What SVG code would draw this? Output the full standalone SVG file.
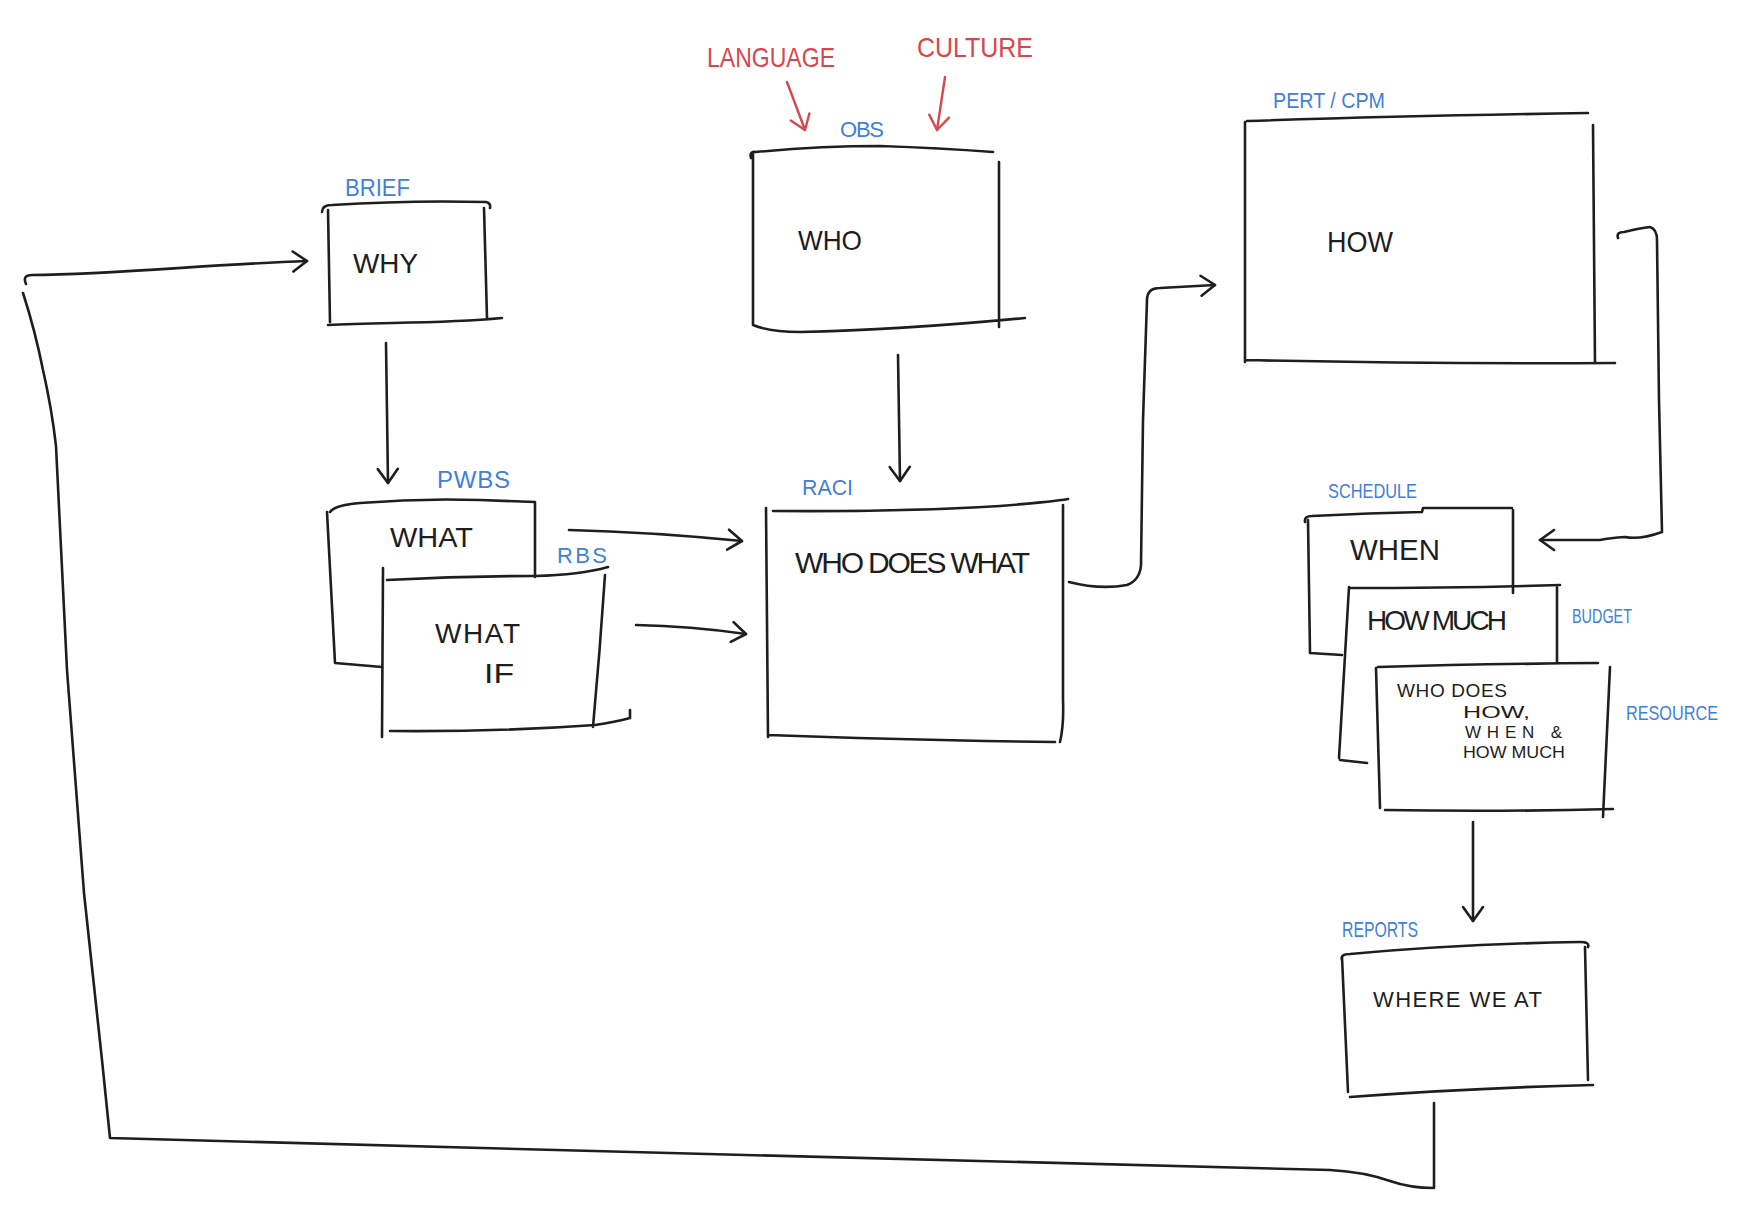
<svg xmlns="http://www.w3.org/2000/svg" width="1750" height="1222" viewBox="0 0 1750 1222">
<style>
.ln{fill:none;stroke:#1e1e1e;stroke-width:2.6;stroke-linecap:round;stroke-linejoin:round}
.rl{fill:none;stroke:#d8474e;stroke-width:2.4;stroke-linecap:round;stroke-linejoin:round}
.t{font-family:"Liberation Sans",Arial,sans-serif;fill:#1e1e1e}
.b{font-family:"Liberation Sans",Arial,sans-serif;fill:#3f80de}
.r{font-family:"Liberation Sans",Arial,sans-serif;fill:#d8474e}
</style>
<defs>
<marker id="a" viewBox="0 0 20 24" refX="17" refY="12" markerWidth="20" markerHeight="24" markerUnits="userSpaceOnUse" orient="auto">
<path d="M3,2 L17,12 L3,22" fill="none" stroke="#1e1e1e" stroke-width="2.6" stroke-linecap="round" stroke-linejoin="round"/>
</marker>
<marker id="ar" viewBox="0 0 20 24" refX="17" refY="12" markerWidth="20" markerHeight="24" markerUnits="userSpaceOnUse" orient="auto">
<path d="M3,2 L17,12 L3,22" fill="none" stroke="#d8474e" stroke-width="2.4" stroke-linecap="round" stroke-linejoin="round"/>
</marker>
</defs>
<rect width="1750" height="1222" fill="#ffffff"/>

<g id="connectors">
<path class="ln" d="M23,293 Q35,330 43,370 Q52,410 56,446 L67,670 L84,893 L102,1060 L110,1138 C500,1148 1000,1163 1330,1170 Q1365,1172 1390,1181 Q1410,1188 1434,1188 L1434,1103"/>
<path class="ln" marker-end="url(#a)" d="M26,284 Q22,275 32,275 C120,274 200,265 307,261"/>
<path class="ln" marker-end="url(#a)" d="M386,343 L388,483"/>
<path class="ln" marker-end="url(#a)" d="M569,530 Q650,532 742,541"/>
<path class="ln" marker-end="url(#a)" d="M636,625 Q690,626 746,634"/>
<path class="ln" marker-end="url(#a)" d="M898,355 L900,481"/>
<path class="ln" marker-end="url(#a)" d="M1069,582 Q1100,590 1127,585 Q1140,580 1141,565 L1143,420 L1147,300 Q1147,288 1160,288 L1215,285"/>
<path class="ln" marker-end="url(#a)" d="M1618,238 Q1616,232 1624,232 Q1640,228 1650,227 Q1657,229 1657,240 L1659,400 L1662,532 Q1640,540 1625,537 Q1610,538 1600,540 L1540,540"/>
<path class="ln" marker-end="url(#a)" d="M1473,822 L1473,921"/>
<path class="rl" marker-end="url(#ar)" d="M787,82 L805,130"/>
<path class="rl" marker-end="url(#ar)" d="M945,77 L937,130"/>
</g>

<g id="node-brief">
<path class="ln" d="M322,212 Q322,205 332,205 Q410,200 486,202 Q491,203 490,208 M328,210 L330,322 M484,208 L487,318 M328,325 C380,322 440,324 502,318"/>
<text class="b" x="345" y="196" font-size="23" textLength="65" lengthAdjust="spacingAndGlyphs">BRIEF</text>
<text class="t" x="353" y="273" font-size="28" textLength="65" lengthAdjust="spacingAndGlyphs">WHY</text>
</g>

<g id="node-pwbs">
<path class="ln" d="M330,512 Q335,505 360,503 Q420,498 480,500 L535,502 M535,503 L535,577 M327,512 L335,663 L382,667"/>
<text class="b" x="437" y="488" font-size="24" textLength="73" lengthAdjust="spacing">PWBS</text>
<text class="t" x="390" y="547" font-size="28" textLength="83" lengthAdjust="spacingAndGlyphs">WHAT</text>
</g>

<g id="node-rbs">
<path class="ln" d="M387,580 Q460,576 535,576 Q580,575 608,567 M383,568 L382,737 M605,575 Q600,650 593,727 M390,731 Q500,732 595,725 Q615,722 630,718 L630,710"/>
<text class="b" x="557" y="563" font-size="22" textLength="50" lengthAdjust="spacing">RBS</text>
<text class="t" x="435" y="643" font-size="28" textLength="85" lengthAdjust="spacing">WHAT</text>
<text class="t" x="484" y="683" font-size="28" textLength="30" lengthAdjust="spacingAndGlyphs">IF</text>
</g>

<g id="node-obs">
<path class="ln" d="M751,158 Q749,151 756,152 Q820,146 880,146 Q940,148 993,152 M753,152 L753,325 M999,162 L999,327 M753,325 Q770,332 800,332 Q900,330 1025,318"/>
<text class="b" x="840" y="137" font-size="22" textLength="44" lengthAdjust="spacing">OBS</text>
<text class="t" x="798" y="250" font-size="28" textLength="64" lengthAdjust="spacingAndGlyphs">WHO</text>
<text class="r" x="707" y="67" font-size="28" textLength="128" lengthAdjust="spacingAndGlyphs">LANGUAGE</text>
<text class="r" x="917" y="57" font-size="28" textLength="116" lengthAdjust="spacingAndGlyphs">CULTURE</text>
</g>

<g id="node-raci">
<path class="ln" d="M773,511 Q900,512 1000,506 Q1050,502 1068,499 M766,508 L768,737 M1063,505 L1063,700 Q1064,725 1060,742 M768,735 Q900,740 1055,742"/>
<text class="b" x="802" y="495" font-size="22" textLength="51" lengthAdjust="spacingAndGlyphs">RACI</text>
<text class="t" x="795" y="573" font-size="30" textLength="235" lengthAdjust="spacing">WHO DOES WHAT</text>
</g>

<g id="node-pert">
<path class="ln" d="M1247,121 Q1400,116 1588,113 M1245,122 L1245,362 M1593,125 L1595,363 M1245,360 Q1420,364 1615,363"/>
<text class="b" x="1273" y="108" font-size="22" textLength="112" lengthAdjust="spacingAndGlyphs">PERT / CPM</text>
<text class="t" x="1327" y="252" font-size="30" textLength="66" lengthAdjust="spacingAndGlyphs">HOW</text>
</g>

<g id="node-schedule">
<path class="ln" d="M1305,522 Q1304,516 1312,516 Q1370,513 1422,512 L1423,508 L1512,508 M1513,510 L1513,593 M1308,520 L1310,653 L1342,655"/>
<text class="b" x="1328" y="498" font-size="20" textLength="89" lengthAdjust="spacingAndGlyphs">SCHEDULE</text>
<text class="t" x="1350" y="560" font-size="30" textLength="90" lengthAdjust="spacingAndGlyphs">WHEN</text>
</g>

<g id="node-budget">
<path class="ln" d="M1350,588 Q1460,588 1560,585 M1349,587 L1339,758 M1340,760 L1367,763 M1557,587 L1557,663"/>
<text class="b" x="1572" y="623" font-size="20" textLength="60" lengthAdjust="spacingAndGlyphs">BUDGET</text>
<text class="t" x="1367" y="630" font-size="28" textLength="140" lengthAdjust="spacing">HOW MUCH</text>
</g>

<g id="node-resource">
<path class="ln" d="M1378,667 Q1480,664 1598,663 M1376,668 L1380,808 M1610,667 L1603,817 M1385,810 Q1500,812 1613,809"/>
<text class="b" x="1626" y="720" font-size="21" textLength="92" lengthAdjust="spacingAndGlyphs">RESOURCE</text>
<text class="t" x="1397" y="697" font-size="19" textLength="110" lengthAdjust="spacing">WHO DOES</text>
<text class="t" x="1463" y="718" font-size="17" textLength="67" lengthAdjust="spacingAndGlyphs">HOW,</text>
<text class="t" x="1465" y="738" font-size="17" textLength="97" lengthAdjust="spacing">WHEN &amp;</text>
<text class="t" x="1463" y="758" font-size="17" textLength="102" lengthAdjust="spacingAndGlyphs">HOW MUCH</text>
</g>

<g id="node-reports">
<path class="ln" d="M1342,960 Q1340,954 1350,954 Q1460,944 1580,942 Q1590,942 1588,947 M1342,957 L1348,1092 M1585,947 L1588,1080 M1350,1097 Q1470,1088 1593,1085"/>
<text class="b" x="1342" y="937" font-size="22" textLength="76" lengthAdjust="spacingAndGlyphs">REPORTS</text>
<text class="t" x="1373" y="1007" font-size="22" textLength="169" lengthAdjust="spacing">WHERE WE AT</text>
</g>
</svg>
